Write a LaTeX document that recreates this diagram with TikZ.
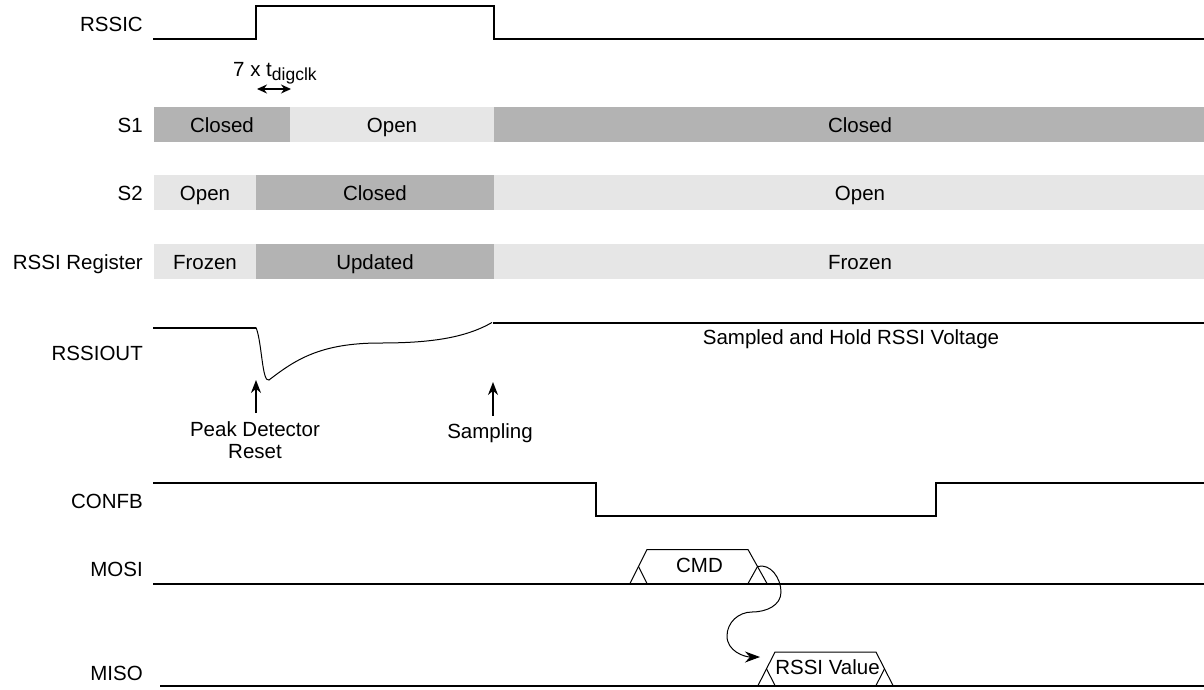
\documentclass[tikz,border=0pt]{standalone}
\usepackage{fontspec}
\setmainfont{Liberation Sans}
\usetikzlibrary{arrows.meta}
\definecolor{closedgray}{RGB}{179,179,179}
\definecolor{opengray}{RGB}{230,230,230}
\tikzset{
    timing/.style={
        x=1pt, y=-1pt,
        >={Stealth[length=13pt,width=10pt]},
        line join = miter,
        every node/.style={font=\fontsize{20.5}{22.5}\selectfont, inner sep=0pt},
    },
    wave/.style={line width=2pt},
    thinwave/.style={line width=1pt},
    pointer/.style={line width=1.6pt, ->},
}
\newcommand{\signame}[3]{\node[anchor=base east] (#1) at (143,#2) {#3};}
\newcommand{\phase}[7]{%
    \fill[#1] (#2,#4) rectangle (#3,{#4+35});
    \node[anchor=base] (#5) at (#6,{#4+25}) {#7};}
% bus word: x1,x2,x3,x4 (left foot, top left, top right, right foot), bottom, top, name, text
\newcommand{\busword}[8]{%
    \draw[thinwave] (#1,#5) -- (#2,#6) -- (#3,#6) -- (#4,#5);
    \coordinate (#7-in) at ({(#1+#2)/2},{(#5+#6)/2});
    \coordinate (#7-out) at ({(#3+#4)/2},{(#5+#6)/2});
    \draw[thinwave] (#7-in) -- (#2,#5);
    \draw[thinwave] (#7-out) -- (#3,#5);
    \node[anchor=base] (#7) at ({(#2+#3)/2+2},{#5-11.5}) {#8};}

\begin{document}
\begin{tikzpicture}[timing]
    \useasboundingbox (0,0) rectangle (1204,689);
    \signame{rssic}{31}{RSSIC}
    \signame{sone}{132}{S1}
    \signame{stwo}{200}{S2}
    \signame{reg}{269}{RSSI Register}
    \signame{rssiout}{360}{RSSIOUT}
    \signame{confb}{508}{CONFB}
    \signame{mosi}{576.5}{MOSI}
    \signame{miso}{680}{MISO}

    \draw[wave] (153,39) -- (256,39) -- (256,5.5) -- (494,5.5) -- (494,39) -- (1204,39);

    \node[anchor=base west] (tdig) at (233,76.7)
        {7 x t\raisebox{-4pt}{\fontsize{17.5}{17.5}\selectfont digclk}};
    \coordinate (t0) at (257,89);
    \coordinate (t1) at (291,89);
    \draw[line width=1.4pt, {Stealth[length=10pt,width=9pt]}-{Stealth[length=10pt,width=9pt]}] (t0) -- (t1);

    \phase{closedgray}{154}{290}{107}{sonea}{222}{Closed}
    \phase{opengray}{290}{494}{107}{soneb}{392}{Open}
    \phase{closedgray}{494}{1204}{107}{sonec}{860}{Closed}
    \phase{opengray}{154}{256}{175}{stwoa}{205}{Open}
    \phase{closedgray}{256}{494}{175}{stwob}{375}{Closed}
    \phase{opengray}{494}{1204}{175}{stwoc}{860}{Open}
    \phase{opengray}{154}{256}{244}{rega}{205}{Frozen}
    \phase{closedgray}{256}{494}{244}{regb}{375}{Updated}
    \phase{opengray}{494}{1204}{244}{regc}{860}{Frozen}

    \draw[wave] (153,327.5) -- (256,327.5);
    \draw[thinwave] (256,327.5) .. controls (262,342) and (262,383) .. (269,380)
        .. controls (295,360) and (320,343) .. (380,343)
        .. controls (430,343) and (465,338) .. (492,322.5);
    \draw[wave] (493,322.5) -- (1204,322.5);
    \node[anchor=base] (hold) at (851,344) {Sampled and Hold RSSI Voltage};

    \coordinate (dip) at (256,380);
    \coordinate (samp) at (493,382);
    \node[align=center, anchor=north] (reset) at (255,421) {Peak Detector\\Reset};
    \node[anchor=base] (sampling) at (490,438) {Sampling};
    \draw[pointer, shorten <=8pt] (reset.north -| dip) -- (dip);
    \draw[pointer, shorten <=7pt] (sampling.north -| samp) -- (samp);

    \draw[wave] (153,482.5) -- (596,482.5) -- (596,516) -- (936,516) -- (936,482.5) -- (1204,482.5);

    \draw[wave] (153,583.5) -- (1204,583.5);
    \busword{630}{647}{748}{767}{583.5}{549.5}{cmd}{CMD}
    \draw[wave] (160,685.5) -- (1204,685.5);
    \busword{758}{775}{876}{893}{685.5}{652}{rssival}{RSSI Value}

    \coordinate (valtip) at (760,657);
    \draw[thinwave, ->, >={Stealth[length=15pt,width=11pt]}] (cmd-out) to[out=15,in=90] (781,592)
        to[out=-90,in=0] (752,612) to[out=180,in=90] (727,636) to[out=-90,in=180] (valtip);
\end{tikzpicture}
\end{document}
